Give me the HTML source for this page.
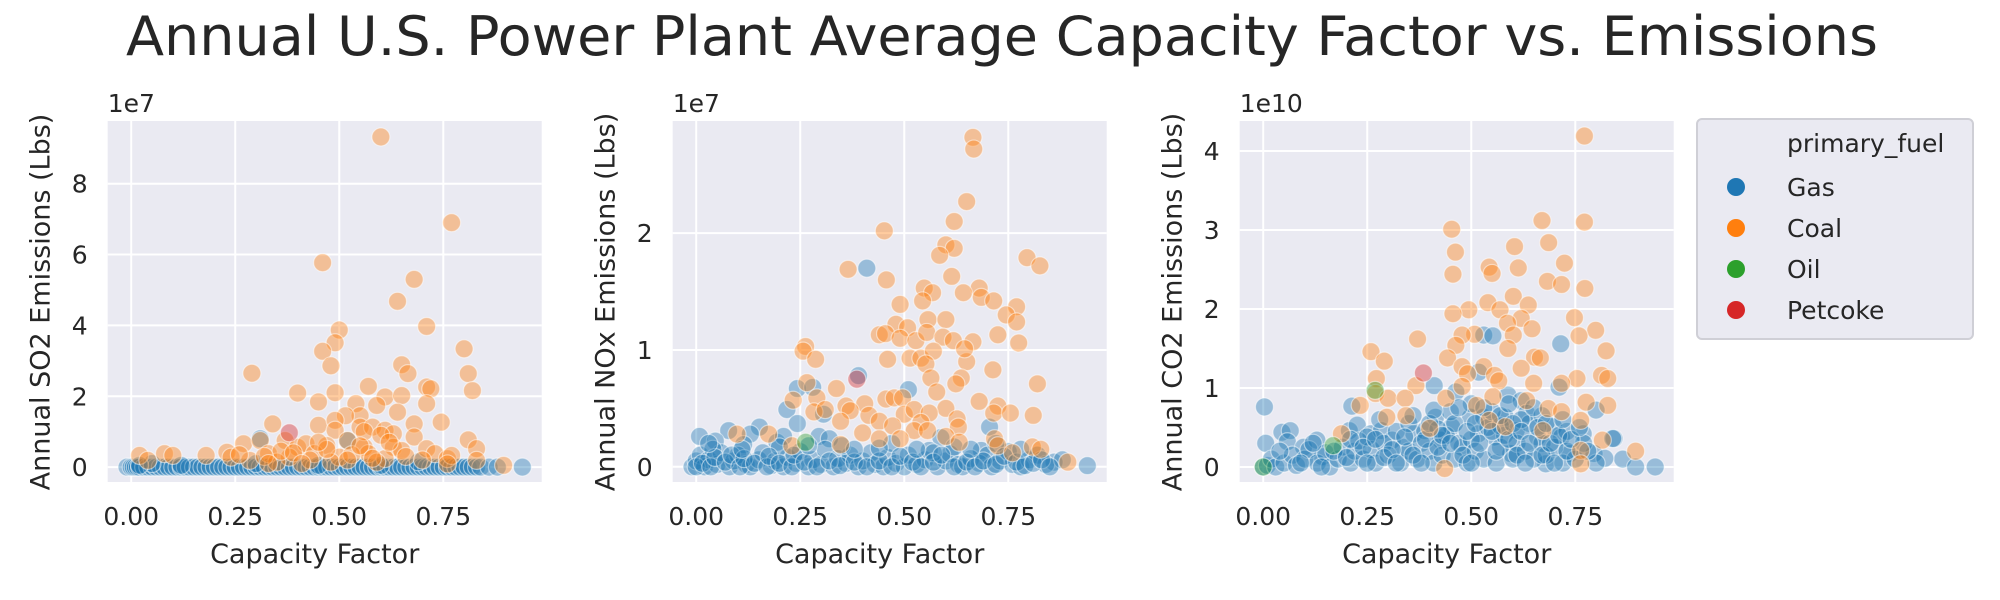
<!DOCTYPE html>
<html><head><meta charset="utf-8"><style>
html,body{margin:0;padding:0;background:#fff;}
svg{display:block;font-family:"DejaVu Sans","Liberation Sans",sans-serif;}
</style></head><body>
<svg id="fig" width="2000" height="600" viewBox="0 0 2000 600" xmlns="http://www.w3.org/2000/svg">
<text x="1002" y="55" font-size="54" fill="#262626" text-anchor="middle" textLength="1752" lengthAdjust="spacingAndGlyphs">Annual U.S. Power Plant Average Capacity Factor vs. Emissions</text>
<g id="panels"></g>
<g>
<rect x="1697" y="119" width="276" height="220" rx="5" fill="#eaeaf2" stroke="#cfcfd6" stroke-width="2"/>
<text x="1787" y="152" font-size="25" fill="#262626">primary_fuel</text>
<g><circle cx="1736" cy="187" r="9" fill="#1f77b4"/><text x="1787" y="196" font-size="25" fill="#262626">Gas</text></g>
<g><circle cx="1736" cy="228" r="9" fill="#ff7f0e"/><text x="1787" y="237" font-size="25" fill="#262626">Coal</text></g>
<g><circle cx="1736" cy="269" r="9" fill="#2ca02c"/><text x="1787" y="278" font-size="25" fill="#262626">Oil</text></g>
<g><circle cx="1736" cy="310" r="9" fill="#d62728"/><text x="1787" y="319" font-size="25" fill="#262626">Petcoke</text></g>
</g>
</svg>
<script>
const xTicks = [0, 0.25, 0.5, 0.75];
const xTickLabels = ["0.00", "0.25", "0.50", "0.75"];
const so2Ticks = [0, 2, 4, 6, 8];
const noxTicks = [0, 1, 2];
const co2Ticks = [0, 1, 2, 3, 4];

const so2GasX = [-0.01,0,0.005,0.01,0.015,0.02,0.03,0.04,0.05,0.06,0.07,0.08,0.09,0.1,0.11,0.12,0.13,0.14,0.15,0.16,0.17,0.18,0.19,0.2,0.21,0.22,0.23,0.24,0.25,0.26,0.27,0.28,0.29,0.3,0.31,0.32,0.33,0.34,0.35,0.36,0.37,0.38,0.39,0.4,0.41,0.42,0.43,0.44,0.45,0.46,0.47,0.48,0.49,0.5,0.51,0.52,0.53,0.54,0.55,0.56,0.57,0.58,0.59,0.6,0.61,0.62,0.63,0.64,0.65,0.66,0.67,0.68,0.69,0.7,0.71,0.72,0.73,0.74,0.75,0.76,0.77,0.78,0.79,0.8,0.81,0.82,0.83,0.84,0.86,0.88,0.94];
const so2GasExtra = [[0.31,0.8],[0.52,0.75],[0.69,0.15],[0.05,0.1],[0.3,0.1],[0.02,0.05],[0.12,0.05],[0.45,0.05],[0.6,0.05]];
const so2Coal = [[0.60,9.32],[0.77,6.9],[0.46,5.77],[0.68,5.3],[0.64,4.68],[0.71,3.97],[0.50,3.87],[0.49,3.51],[0.46,3.27],[0.80,3.34],[0.48,2.86],[0.65,2.89],[0.665,2.64],[0.81,2.64],[0.29,2.65],[0.82,2.16],[0.40,2.09],[0.49,2.10],[0.57,2.28],[0.71,2.26],[0.72,2.21],[0.45,1.84],[0.61,1.98],[0.65,2.02],[0.71,1.79],[0.54,1.79],[0.59,1.74],[0.64,1.55],[0.55,1.45],[0.515,1.45],[0.68,1.22],[0.745,1.27],[0.45,1.18],[0.34,1.22],[0.49,1.32],[0.49,1.04],[0.55,1.13],[0.58,1.13],[0.61,1.04],[0.63,0.94],[0.68,0.85],[0.81,0.77],[0.83,0.52],[0.37,0.75],[0.27,0.66],[0.31,0.75],[0.40,0.56],[0.42,0.66],[0.47,0.61],[0.52,0.75],[0.56,0.56],[0.63,0.56],[0.65,0.47],[0.71,0.52],[0.73,0.38],[0.23,0.42],[0.18,0.33],[0.08,0.38],[0.10,0.33],[0.02,0.33],[0.04,0.19],[0.24,0.28],[0.33,0.38],[0.38,0.28],[0.44,0.38],[0.50,0.28],[0.57,0.38],[0.61,0.24],[0.76,0.24],[0.77,0.33],[0.895,0.05],[0.76,0.09],[0.59,0.14],[0.83,0.19],[0.285,0.19],[0.48,0.14],[0.35,0.14],[0.36,0.45],[0.47,0.5],[0.56,1.0],[0.6,0.9],[0.32,0.3],[0.43,0.2],[0.53,0.35],[0.66,0.3],[0.7,0.2],[0.26,0.35],[0.39,0.4],[0.52,0.2],[0.62,0.7],[0.55,0.6],[0.58,0.25],[0.45,0.7],[0.33,0.1],[0.41,0.1]];
const so2Oil = [];
const so2Petcoke = [[0.38,0.97]];

const noxGas = [[0.41,1.70],[0.51,0.66],[0.39,0.78],[0.243,0.67],[0.28,0.68],[0.218,0.49],[0.243,0.37],[0.008,0.26],[0.078,0.31],[0.152,0.34],[0.13,0.28],[0.046,0.22],[0.114,0.19],[0.194,0.21],[0.21,0.26],[0.295,0.26],[0.306,0.45],[0.32,0.24],[0.705,0.34],[0.588,0.25],[0.685,0.14],[0.86,0.04],[0.94,0.01],
[-0.01,0.0],[0,0.05],[0.01,0.1],[0.02,0.0],[0.03,0.06],[0.05,0.02],[0.06,0.12],[0.08,0.0],[0.09,0.05],[0.1,0.1],[0.12,0.02],[0.13,0.0],[0.15,0.06],[0.16,0.12],[0.18,0.01],[0.19,0.05],[0.21,0.0],[0.22,0.08],[0.24,0.03],[0.25,0.13],[0.27,0.0],[0.28,0.06],[0.3,0.02],[0.31,0.15],[0.33,0.0],[0.34,0.07],[0.36,0.03],[0.37,0.1],[0.39,0.0],[0.4,0.05],[0.42,0.12],[0.43,0.02],[0.45,0.0],[0.46,0.08],[0.48,0.03],[0.5,0.0],[0.51,0.1],[0.53,0.02],[0.55,0.06],[0.56,0.14],[0.58,0.0],[0.6,0.05],[0.61,0.11],[0.63,0.02],[0.64,0.0],[0.66,0.07],[0.68,0.03],[0.7,0.1],[0.71,0.0],[0.73,0.05],[0.75,0.13],[0.76,0.02],[0.78,0.0],[0.8,0.06],[0.82,0.1],[0.84,0.02],[0.88,0.06],[0.04,0.15],[0.2,0.17],[0.35,0.18],[0.47,0.2],[0.62,0.17],[0.72,0.2],[0.57,0.12],
[0.0,0.0],[0.015,0.03],[0.035,0.0],[0.045,0.08],[0.07,0.04],[0.085,0.1],[0.105,0.0],[0.115,0.07],[0.14,0.03],[0.17,0.0],[0.175,0.09],[0.2,0.03],[0.23,0.0],[0.235,0.1],[0.26,0.04],[0.29,0.0],[0.32,0.05],[0.345,0.01],[0.38,0.04],[0.41,0.0],[0.44,0.05],[0.47,0.0],[0.49,0.09],[0.52,0.04],[0.54,0.0],[0.57,0.04],[0.59,0.1],[0.62,0.0],[0.65,0.04],[0.67,0.0],[0.69,0.05],[0.72,0.02],[0.74,0.09],[0.77,0.04],[0.79,0.01],[0.81,0.03],[0.83,0.06],[0.85,0.0],[0.03,0.2],[0.11,0.15],[0.27,0.18],[0.38,0.15],[0.44,0.16],[0.53,0.15],[0.66,0.15],[0.78,0.15]];
const noxCoal = [[0.665,2.82],[0.667,2.72],[0.65,2.27],[0.62,2.10],[0.452,2.02],[0.60,1.90],[0.62,1.87],[0.585,1.81],[0.795,1.79],[0.826,1.72],[0.365,1.69],[0.457,1.60],[0.614,1.63],[0.548,1.53],[0.568,1.49],[0.68,1.53],[0.642,1.49],[0.685,1.45],[0.715,1.42],[0.544,1.42],[0.77,1.37],[0.745,1.30],[0.77,1.24],[0.49,1.39],[0.557,1.26],[0.60,1.26],[0.48,1.22],[0.508,1.19],[0.44,1.13],[0.455,1.14],[0.49,1.10],[0.528,1.08],[0.554,1.15],[0.593,1.11],[0.618,1.08],[0.665,1.07],[0.725,1.13],[0.775,1.06],[0.263,1.03],[0.257,0.99],[0.287,0.92],[0.46,0.92],[0.514,0.93],[0.54,0.93],[0.57,0.99],[0.552,0.88],[0.65,0.90],[0.645,1.01],[0.713,0.83],[0.564,0.76],[0.637,0.76],[0.624,0.71],[0.82,0.71],[0.337,0.67],[0.578,0.64],[0.266,0.72],[0.29,0.59],[0.233,0.57],[0.68,0.56],[0.456,0.58],[0.476,0.59],[0.496,0.59],[0.405,0.54],[0.60,0.50],[0.725,0.52],[0.715,0.46],[0.755,0.46],[0.283,0.47],[0.31,0.49],[0.36,0.52],[0.37,0.48],[0.50,0.45],[0.524,0.49],[0.56,0.46],[0.81,0.44],[0.347,0.39],[0.415,0.44],[0.44,0.39],[0.472,0.35],[0.54,0.38],[0.627,0.41],[0.63,0.34],[0.717,0.24],[0.725,0.18],[0.808,0.17],[0.828,0.15],[0.893,0.04],[0.76,0.12],[0.40,0.29],[0.44,0.24],[0.524,0.31],[0.556,0.31],[0.098,0.28],[0.174,0.28],[0.23,0.18],[0.347,0.19],[0.49,0.24],[0.60,0.26],[0.632,0.21]];
const noxOil = [[0.263,0.21]];
const noxPetcoke = [[0.386,0.75]];

const co2Gas = [[0.003,0.76],[0.53,1.67],[0.552,1.66],[0.518,1.20],[0.715,1.56],[0.711,1.01],[0.411,1.03],[0.463,0.95],[0.213,0.77],[0.588,0.91],[0.62,0.84],[0.80,0.72],[0.843,0.36],[0.864,0.10],[0.895,0.0],[0.942,0.0],[0.045,0.44],[0.065,0.46],[0.006,0.30],[0.058,0.32],[0.097,0.25],[0.129,0.34],[0.142,0.13],[0.207,0.46],[0.226,0.53],[0.259,0.42],[0.284,0.46],[0.31,0.34],[0.336,0.25],[0.362,0.42],[0.388,0.46],[0.414,0.63],[0.427,0.34],[0.453,0.51],[0.478,0.25],[0.498,0.63],[0.517,0.42],[0.53,0.63],[0.556,0.38],[0.582,0.63],[0.595,0.17],[0.608,0.46],[0.633,0.68],[0.659,0.38],[0.679,0.04],[0.698,0.51],[0.717,0.38],[0.737,0.17],[0.769,0.42],[0.795,0.17],[0.821,0.11],[0.84,0.36],
[0,0],[0.01,0.02],[0.02,0.1],[0.03,0.0],[0.05,0.05],[0.07,0.15],[0.08,0.02],[0.1,0.1],[0.11,0.22],[0.13,0.05],[0.15,0.18],[0.16,0.0],[0.18,0.1],[0.19,0.25],[0.21,0.05],[0.22,0.2],[0.23,0.33],[0.24,0.1],[0.26,0.22],[0.27,0.05],[0.29,0.3],[0.3,0.15],[0.32,0.45],[0.33,0.05],[0.35,0.2],[0.37,0.1],[0.38,0.3],[0.4,0.2],[0.41,0.05],[0.43,0.15],[0.44,0.4],[0.46,0.1],[0.47,0.3],[0.49,0.05],[0.5,0.35],[0.51,0.2],[0.53,0.1],[0.54,0.5],[0.56,0.05],[0.57,0.25],[0.58,0.4],[0.6,0.1],[0.61,0.3],[0.63,0.2],[0.64,0.55],[0.65,0.1],[0.67,0.3],[0.68,0.15],[0.7,0.25],[0.72,0.05],[0.73,0.45],[0.75,0.1],[0.77,0.3],[0.8,0.05],[0.45,0.7],[0.55,0.7],[0.62,0.6],[0.35,0.55],[0.28,0.6],[0.5,0.8],[0.67,0.65],[0.25,0.38],[0.42,0.48],[0.57,0.52],
[0.04,0.2],[0.09,0.05],[0.12,0.3],[0.14,0.0],[0.17,0.2],[0.2,0.12],[0.21,0.35],[0.24,0.25],[0.25,0.05],[0.27,0.35],[0.29,0.12],[0.31,0.22],[0.32,0.05],[0.34,0.38],[0.36,0.15],[0.38,0.05],[0.39,0.35],[0.4,0.55],[0.42,0.25],[0.43,0.4],[0.45,0.3],[0.46,0.55],[0.48,0.15],[0.49,0.45],[0.5,0.05],[0.51,0.55],[0.52,0.3],[0.53,0.75],[0.55,0.45],[0.56,0.2],[0.57,0.65],[0.59,0.35],[0.6,0.55],[0.61,0.15],[0.62,0.45],[0.63,0.05],[0.64,0.3],[0.66,0.5],[0.67,0.15],[0.68,0.55],[0.69,0.3],[0.7,0.05],[0.71,0.4],[0.72,0.6],[0.73,0.2],[0.74,0.35],[0.76,0.5],[0.78,0.2],[0.36,0.65],[0.47,0.75],[0.59,0.8],[0.65,0.75],[0.41,0.72]];
const co2Coal = [[0.772,4.19],[0.67,3.12],[0.772,3.10],[0.453,3.01],[0.686,2.84],[0.462,2.72],[0.604,2.79],[0.724,2.58],[0.543,2.53],[0.613,2.52],[0.456,2.44],[0.55,2.45],[0.683,2.35],[0.717,2.31],[0.773,2.26],[0.601,2.16],[0.54,2.08],[0.637,2.05],[0.494,1.99],[0.569,1.99],[0.456,1.94],[0.748,1.89],[0.62,1.88],[0.587,1.82],[0.508,1.68],[0.601,1.67],[0.646,1.75],[0.799,1.73],[0.759,1.66],[0.371,1.62],[0.478,1.67],[0.463,1.54],[0.259,1.46],[0.291,1.34],[0.824,1.47],[0.588,1.50],[0.443,1.38],[0.652,1.39],[0.666,1.38],[0.478,1.27],[0.53,1.27],[0.62,1.25],[0.491,1.18],[0.272,1.12],[0.556,1.16],[0.566,1.09],[0.754,1.12],[0.813,1.16],[0.828,1.12],[0.367,1.03],[0.478,1.02],[0.65,1.06],[0.717,1.06],[0.27,0.93],[0.30,0.87],[0.341,0.87],[0.439,0.87],[0.513,0.78],[0.552,0.89],[0.633,0.84],[0.685,0.74],[0.717,0.70],[0.776,0.82],[0.828,0.78],[0.233,0.78],[0.343,0.65],[0.543,0.59],[0.582,0.51],[0.763,0.59],[0.672,0.46],[0.815,0.34],[0.763,0.21],[0.895,0.20],[0.763,0.04],[0.436,-0.02],[0.188,0.42],[0.297,0.63],[0.40,0.49]];
const co2Oil = [[0.269,0.97],[0.168,0.27],[0.0,0.0]];
const co2Petcoke = [[0.385,1.19]];

const panels = [
  {name:"so2", left:107.7, label:"Annual SO2 Emissions (Lbs)", offset:"1e7", yTop:9.77, yBottom:-0.42, ticks:so2Ticks,
   series:[["gas", so2GasX.map(v=>[v,0]).concat(so2GasExtra)],["coal",so2Coal],["oil",so2Oil],["petcoke",so2Petcoke]]},
  {name:"nox", left:672.7, label:"Annual NOx Emissions (Lbs)", offset:"1e7", yTop:2.96, yBottom:-0.13, ticks:noxTicks,
   series:[["gas",noxGas],["coal",noxCoal],["oil",noxOil],["petcoke",noxPetcoke]]},
  {name:"co2", left:1239.7, label:"Annual CO2 Emissions (Lbs)", offset:"1e10", yTop:4.38, yBottom:-0.19, ticks:co2Ticks,
   series:[["gas",co2Gas],["coal",co2Coal],["oil",co2Oil],["petcoke",co2Petcoke]]}
];
const colors = {gas:"#1f77b4", coal:"#ff7f0e", oil:"#2ca02c", petcoke:"#d62728"};
const NS = "http://www.w3.org/2000/svg";
const W = 434, TOP = 121, BOT = 482;
const X0 = -0.0565, X1 = 0.9865;
const root = document.getElementById("panels");
function mk(tag, attrs, parent){ const e=document.createElementNS(NS,tag); for(const k in attrs) e.setAttribute(k,attrs[k]); parent.appendChild(e); return e; }

panels.forEach(p=>{
  const g = mk("g",{},root);
  
  
  const xs = v => p.left + (v - X0) / (X1 - X0) * W;
  const ys = v => BOT - (v - p.yBottom) / (p.yTop - p.yBottom) * (BOT - TOP);
  const bg = mk("rect",{x:p.left,y:TOP,width:W,height:BOT-TOP,fill:"#eaeaf2"},g);
  
  
  xTicks.forEach((t,i)=>{
    const x = xs(t);
    const gl = mk("line",{x1:x,x2:x,y1:TOP,y2:BOT,stroke:"#fff","stroke-width":2},g);
    
    
    const tl = mk("text",{x:x,y:525,"font-size":25,fill:"#262626","text-anchor":"middle"},g);
    
    
    tl.textContent = xTickLabels[i];
  });
  p.ticks.forEach(t=>{
    const y = ys(t);
    const gl = mk("line",{x1:p.left,x2:p.left+W,y1:y,y2:y,stroke:"#fff","stroke-width":2},g);
    
    
    const tl = mk("text",{x:p.left-20,y:y+9,"font-size":25,fill:"#262626","text-anchor":"end"},g);
    
    
    tl.textContent = String(t);
  });
  const marks = mk("g",{},g);
  
  
  p.series.forEach(([fuel, pts])=>{
    pts.forEach(([vx,vy])=>{
      const c = mk("circle",{cx:xs(vx),cy:ys(vy),r:9,fill:colors[fuel],"fill-opacity":0.4,stroke:"#ffffff","stroke-opacity":0.5,"stroke-width":1.2},marks);
      
      
    });
  });
  const off = mk("text",{x:p.left,y:112,"font-size":25,fill:"#262626"},g);
  
  
  off.textContent = p.offset;
  const xl = mk("text",{x:p.left+W/2-10,y:563,"font-size":27,fill:"#262626","text-anchor":"middle"},g);
  
  
  xl.textContent = "Capacity Factor";
  const cx = p.left-58, cy = 302;
  const yl = mk("text",{x:cx,y:cy,"font-size":27,fill:"#262626","text-anchor":"middle",transform:`rotate(-90 ${cx} ${cy})`},g);
  
  
  yl.textContent = p.label;
});
</script>
</body></html>
